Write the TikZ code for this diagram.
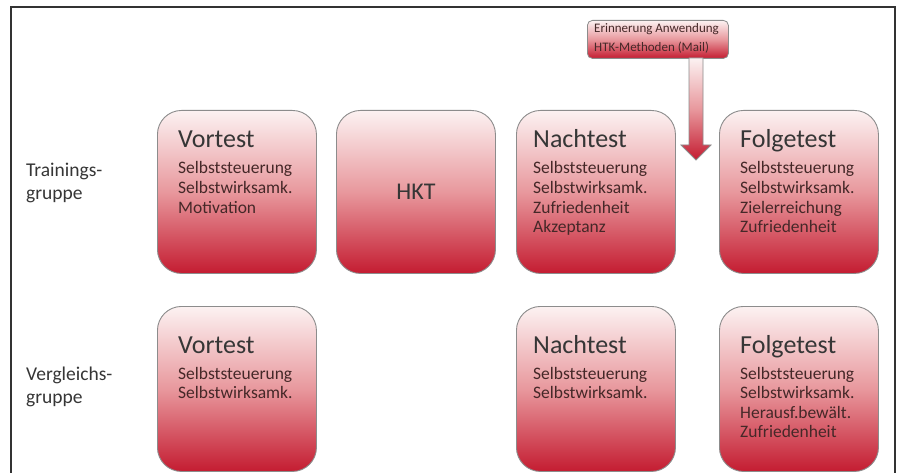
\documentclass[tikz,border=0pt]{standalone}
\usepackage{fontspec}
\setmainfont{Carlito}
\usetikzlibrary{calc}
\definecolor{boxtop}{HTML}{FCF2F2}
\definecolor{boxmid}{HTML}{E8989D}
\definecolor{boxbot}{HTML}{C41C31}
\definecolor{boxline}{HTML}{8C8C8C}
\definecolor{headtxt}{HTML}{363636}
\definecolor{subtxt}{HTML}{452828}
\definecolor{framecol}{HTML}{333333}
\tikzset{
 card/.style={draw=boxline, line width=0.9pt, rounded corners=24pt, top color=boxtop, bottom color=boxbot, middle color=boxmid, minimum width=159pt, minimum height=163pt, anchor=north west, inner sep=0pt},
 head/.style={anchor=base west, inner sep=0pt, font=\fontsize{26}{30}\selectfont, text=headtxt},
 sub/.style={anchor=base west, inner sep=0pt, font=\fontsize{17.5}{19.5}\selectfont, text=subtxt},
 grp/.style={anchor=base west, inner sep=0pt, font=\fontsize{19.5}{23}\selectfont, text=headtxt},
 note/.style={anchor=base west, inner sep=0pt, font=\fontsize{13}{15}\selectfont, text=subtxt},
}
\begin{document}
\begin{tikzpicture}[x=1pt,y=-1pt]
\useasboundingbox (0,0) rectangle (899,473);
\fill[white] (0,0) rectangle (899,473);
% frame
\draw[line width=2.2pt, framecol] (11,474) -- (11,7) -- (895,7) -- (895,474);
% group labels
\node[grp] (tg1) at (26,177) {Trainings-};
\node[grp] (tg2) at (26,200) {gruppe};
\node[grp] (vg1) at (26,380) {Vergleichs-};
\node[grp] (vg2) at (26,403) {gruppe};
\begin{scope}
\clip (0,0) rectangle (883,472);
% row 1
\node[card] (tv) at (157,110) {};
\node[card] (th) at (336,110) {};
\node[card] (tn) at (516,110) {};
\node[card] (tf) at (719,110) {};
% row 2
\node[card, minimum height=165pt] (vv) at (157,306) {};
\node[card, minimum height=165pt] (vn) at (516,306) {};
\node[card, minimum height=165pt] (vf) at (719,306) {};
\end{scope}
% texts row 1
\node[head] (tvh) at (178,148) {Vortest};
\foreach \t [count=\i from 0] in {Selbststeuerung, Selbstwirksamk., Motivation}
  \node[sub] (tvs\i) at (178,174+19.5*\i) {\t};
\node[anchor=center, inner sep=0pt, font=\fontsize{24}{28}\selectfont, text=headtxt] (thh) at (th.center) {HKT};
\node[head] (tnh) at (533,148) {Nachtest};
\foreach \t [count=\i from 0] in {Selbststeuerung, Selbstwirksamk., Zufriedenheit, Akzeptanz}
  \node[sub] (tns\i) at (533,174+19.5*\i) {\t};
\node[head] (tfh) at (740,148) {Folgetest};
\foreach \t [count=\i from 0] in {Selbststeuerung, Selbstwirksamk., Zielerreichung, Zufriedenheit}
  \node[sub] (tfs\i) at (740,174+19.5*\i) {\t};
% texts row 2
\node[head] (vvh) at (178,353) {Vortest};
\foreach \t [count=\i from 0] in {Selbststeuerung, Selbstwirksamk.}
  \node[sub] (vvs\i) at (178,379+19.5*\i) {\t};
\node[head] (vnh) at (533,353) {Nachtest};
\foreach \t [count=\i from 0] in {Selbststeuerung, Selbstwirksamk.}
  \node[sub] (vns\i) at (533,379+19.5*\i) {\t};
\node[head] (vfh) at (740,353) {Folgetest};
\foreach \t [count=\i from 0] in {Selbststeuerung, Selbstwirksamk., Herausf.bewält., Zufriedenheit}
  \node[sub] (vfs\i) at (740,379+19.5*\i) {\t};
% reminder box
\node[draw=boxline, line width=0.8pt, rounded corners=5pt, top color=boxtop, bottom color=boxbot, middle color=boxmid, minimum width=141pt, minimum height=38pt, anchor=north west, inner sep=0pt] (rem) at (587,20) {};
\node[note] (rem1) at (594,33) {Erinnerung Anwendung};
\node[note] (rem2) at (594,52) {HTK-Methoden (Mail)};
% arrow
\coordinate (atop) at (696,58);
\coordinate (atip) at (696,160);
\path[draw=boxline, line width=0.8pt, top color=boxtop, bottom color=boxbot, middle color=boxmid]
  ($(atop)+(-7,0)$) -- ($(atip)+(-7,-15)$) -- ($(atip)+(-15,-15)$) -- (atip)
  -- ($(atip)+(15,-15)$) -- ($(atip)+(7,-15)$) -- ($(atop)+(7,0)$) -- cycle;
\end{tikzpicture}
\end{document}
